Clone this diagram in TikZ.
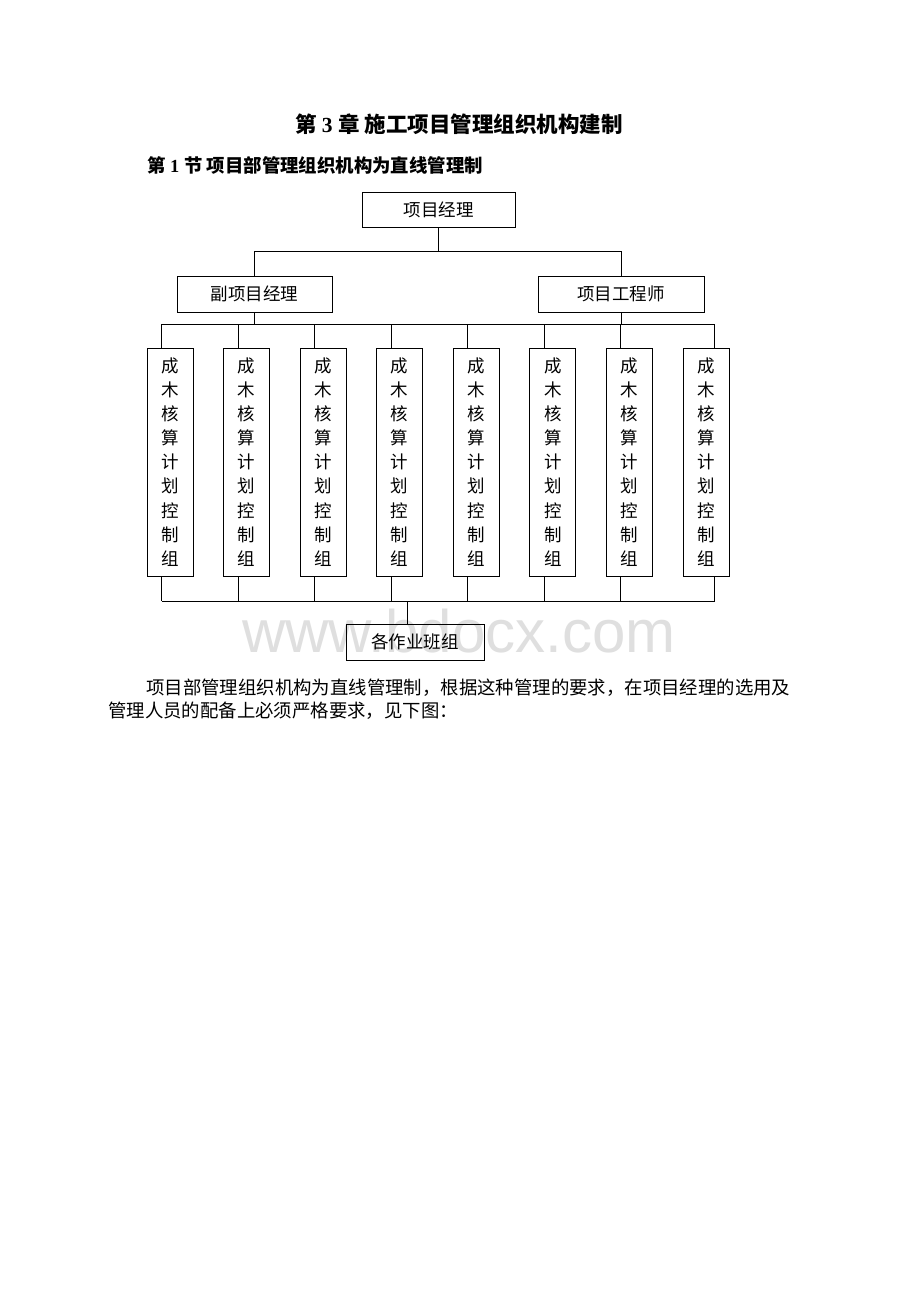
\documentclass[tikz,border=0pt]{standalone}
\usepackage{fontspec}
\setmainfont{Liberation Serif}
\newfontfamily\cjkf{Noto Sans CJK SC}
\newfontfamily\wmfont{Liberation Sans}
\tikzset{
  orgbox/.style={draw=black, line width=1pt, inner sep=0pt, font=\cjkf\fontsize{17.5}{20}\selectfont},
  barbox/.style={draw=black, line width=1pt, inner sep=0pt, minimum width=46pt, minimum height=228pt, align=center, font=\cjkf\fontsize{17.5}{24.1}\selectfont},
  link/.style={draw=black, line width=1pt},
  plain/.style={inner sep=0pt}
}
\begin{document}
\begin{tikzpicture}[x=1pt,y=-1pt]
\path[use as bounding box] (0,0) rectangle (920,1302);
\fill[white] (0,0) rectangle (920,1302);
% watermark
\node[plain, anchor=base, text=gray!25, font=\wmfont\fontsize{60}{60}\selectfont] (wm) at (459,652) {www.bdocx.com};
% headings
\node[plain, anchor=center] (title) at (459,124) {\fontsize{21.5}{26}\selectfont\bfseries {\cjkf 第} 3 {\cjkf 章} {\cjkf 施工项目管理组织机构建制}};
\node[plain, anchor=west] (sec) at (147,165) {\fontsize{18.4}{22}\selectfont\bfseries {\cjkf 第} 1 {\cjkf 节} {\cjkf 项目部管理组织机构为直线管理制}};
% boxes
\node[orgbox, minimum width=153pt, minimum height=35pt] (pm) at (438.5,209.5) {项目经理};
\node[orgbox, minimum width=155pt, minimum height=36pt] (dpm) at (254.5,294) {副项目经理};
\node[orgbox, minimum width=166pt, minimum height=36pt] (pe) at (621,294) {项目工程师};
\foreach \i in {1,...,8} {
  \pgfmathsetmacro{\cx}{170+76.571*(\i-1)}
  \node[barbox] (b\i) at (\cx,462) {成\\木\\核\\算\\计\\划\\控\\制\\组};
}
\node[orgbox, minimum width=138pt, minimum height=36pt] (team) at (415,642) {各作业班组};
% connectors
\coordinate (j1) at (438,251);
\coordinate (j2) at (0,324);
\coordinate (j3) at (0,601);
\draw[link] (pm.south) -- (pm.south |- j1);
\draw[link] (dpm.north) -- (dpm.north |- j1) -- (pe.north |- j1) -- (pe.north);
\draw[link] (dpm.south) -- (dpm.south |- j2);
\draw[link] (pe.south) -- (pe.south |- j2);
\foreach \i in {1,...,7} {
  \draw[link] ([xshift=15pt]b\i.north west) -- ([xshift=15pt]b\i.north west |- j2);
  \draw[link] ([xshift=15pt]b\i.south west) -- ([xshift=15pt]b\i.south west |- j3);
}
\draw[link] ([xshift=32pt]b8.north west) -- ([xshift=32pt]b8.north west |- j2);
\draw[link] ([xshift=32pt]b8.south west) -- ([xshift=32pt]b8.south west |- j3);
\draw[link] ([xshift=15pt]b1.north west |- j2) -- ([xshift=32pt]b8.north west |- j2);
\draw[link] ([xshift=15pt]b1.south west |- j3) -- ([xshift=32pt]b8.south west |- j3);
\draw[link] ([xshift=-8pt]team.north |- j3) -- ([xshift=-8pt]team.north);
% paragraph
\node[plain, anchor=west, font=\cjkf\fontsize{18.4}{22}\selectfont] (p1) at (146,688) {项目部管理组织机构为直线管理制，根据这种管理的要求，在项目经理的选用及};
\node[plain, anchor=west, font=\cjkf\fontsize{18.4}{22}\selectfont] (p2) at (108,711) {管理人员的配备上必须严格要求，见下图：};
\end{tikzpicture}
\end{document}
